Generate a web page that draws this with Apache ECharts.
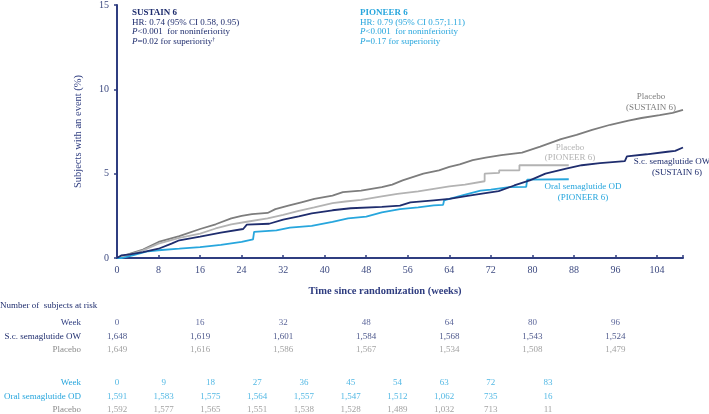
<!DOCTYPE html>
<html><head><meta charset="utf-8">
<script src="https://cdn.jsdelivr.net/npm/echarts@6/dist/echarts.min.js"></script>
<style>html,body{margin:0;padding:0;background:#fff}#c{width:709px;height:414px}</style>
</head><body><div id="c"></div>
<script>
// ---- data (weeks, % subjects with an event) ----
const placeboSustain = [[0,0],[1,0.1],[3,0.3],[5,0.5],[8,0.95],[12,1.3],[16,1.72],[19,2.0],[22,2.35],[24,2.5],[26,2.6],[29,2.67],[30.5,2.9],[33,3.1],[35.5,3.3],[38,3.5],[41.5,3.7],[43.5,3.9],[47,4.0],[51,4.2],[53,4.35],[55,4.6],[59,5.0],[62,5.2],[64,5.4],[66,5.55],[68.5,5.8],[71,5.95],[74,6.1],[78,6.25],[81.5,6.6],[85.5,7.05],[88.5,7.3],[91.5,7.6],[95,7.9],[98.5,8.15],[101,8.3],[104.5,8.47],[107,8.6],[109,8.78]];
const placeboPioneer = [[0,0],[2,0.15],[5,0.45],[8,0.85],[12,1.2],[16,1.45],[19,1.75],[22,2.0],[25,2.15],[29,2.35],[32,2.55],[35,2.8],[38,3.0],[41.5,3.25],[44,3.35],[47,3.45],[51,3.65],[54,3.8],[58,3.95],[61,4.1],[64,4.25],[67,4.35],[70.8,4.55],[70.8,5.0],[73.6,5.05],[73.6,5.2],[77.5,5.2],[77.5,5.5],[87,5.5]];
const scSema = [[0,0],[0.8,0.15],[2.5,0.22],[5,0.35],[8,0.55],[10.5,0.85],[12,1.05],[16,1.27],[20,1.5],[24.3,1.72],[25,1.98],[29.3,2.03],[32,2.28],[35,2.47],[37.5,2.65],[41.5,2.83],[45,2.95],[51,3.03],[54.5,3.1],[56.5,3.3],[61,3.42],[64,3.5],[67.5,3.68],[70,3.8],[73.5,3.97],[76.5,4.3],[79.5,4.6],[82.5,5.0],[86.5,5.3],[89.5,5.5],[93,5.62],[97.8,5.74],[98.2,6.03],[102,6.15],[106,6.3],[107.5,6.35],[109,6.55]];
const oralSema = [[0,0],[1,0],[3,0.16],[6,0.4],[8,0.46],[12,0.55],[16,0.65],[20,0.78],[24,0.95],[26.2,1.1],[26.4,1.55],[30.7,1.64],[33.3,1.8],[37.5,1.9],[41.5,2.14],[44.5,2.35],[48,2.45],[51,2.7],[54.5,2.9],[58,3.0],[61,3.12],[62.8,3.15],[63,3.42],[66.5,3.72],[70,4.0],[72,4.05],[75.5,4.2],[78.8,4.22],[79,4.65],[87,4.67]];

// ---- risk tables ----
const sustainWeeks = [0,16,32,48,64,80,96];
const sustainSema = [1648,1619,1601,1584,1568,1543,1524];
const sustainPlacebo = [1649,1616,1586,1567,1534,1508,1479];
const pioneerWeeks = [0,9,18,27,36,45,54,63,72,83];
const pioneerSema = [1591,1583,1575,1564,1557,1547,1512,1062,735,16];
const pioneerPlacebo = [1592,1577,1565,1551,1538,1528,1489,1032,713,11];

const NAVY='#1f2d6e', AXIS='#2f3d80', GRAY1='#7d7d7d', GRAY2='#b3b3b3', CYAN='#27a6dd', TGRAY='#8a8a8a';
const FONT='Liberation Serif';
const L=117, R=26, XMAX=109;

const grids=[{left:L,right:R,top:5,bottom:156}];
const xAxes=[{type:'value',min:0,max:XMAX,interval:8,gridIndex:0,
  axisLine:{lineStyle:{color:AXIS,width:2}},
  axisTick:{inside:true,length:3,lineStyle:{color:AXIS,width:1.5}},
  axisLabel:{color:'#3d4a80',fontFamily:FONT,fontSize:10,margin:7,
    formatter:v=>v<=104?String(v):''},
  splitLine:{show:false}}];
const yAxes=[{type:'value',min:0,max:15,interval:5,gridIndex:0,
  name:'Subjects with an event (%)',nameLocation:'middle',nameGap:33,
  nameTextStyle:{color:'#2f3d80',fontFamily:FONT,fontSize:10.5},
  axisLine:{show:true,lineStyle:{color:AXIS,width:2}},
  axisTick:{show:true,length:3,lineStyle:{color:AXIS,width:1.5}},
  axisLabel:{color:'#3d4a80',fontFamily:FONT,fontSize:10,margin:8},
  splitLine:{show:false}}];

function line(name,data,color,w){return {type:'line',name,data,xAxisIndex:0,yAxisIndex:0,showSymbol:false,symbol:'none',
  lineStyle:{color,width:w},itemStyle:{color},z:3,animation:false};}
const series=[
  line('Placebo (SUSTAIN 6)',placeboSustain,GRAY1,1.8),
  line('Placebo (PIONEER 6)',placeboPioneer,GRAY2,1.8),
  line('Oral semaglutide OD',oralSema,CYAN,1.8),
  line('S.c. semaglutide OW',scSema,NAVY,1.8)
];

const rows=[
  {y:323,weeks:sustainWeeks,vals:sustainWeeks,color:'#2f3d80',label:'Week'},
  {y:337,weeks:sustainWeeks,vals:sustainSema,color:NAVY,label:'S.c. semaglutide OW',fmt:true},
  {y:350,weeks:sustainWeeks,vals:sustainPlacebo,color:TGRAY,label:'Placebo',fmt:true},
  {y:383,weeks:pioneerWeeks,vals:pioneerWeeks,color:CYAN,label:'Week'},
  {y:397,weeks:pioneerWeeks,vals:pioneerSema,color:CYAN,label:'Oral semaglutide OD',fmt:true},
  {y:410,weeks:pioneerWeeks,vals:pioneerPlacebo,color:TGRAY,label:'Placebo',fmt:true}
];
const graphics=[];
rows.forEach((r,i)=>{
  const gi=i+1;
  grids.push({left:L,right:R,top:r.y-1,height:2});
  xAxes.push({type:'value',min:0,max:XMAX,gridIndex:gi,show:false});
  yAxes.push({type:'value',min:0,max:1,gridIndex:gi,show:false});
  series.push({type:'scatter',xAxisIndex:gi,yAxisIndex:gi,symbol:'circle',symbolSize:1,
    itemStyle:{color:'rgba(0,0,0,0)'},animation:false,silent:true,
    data:r.weeks.map((w,k)=>({value:[w,0.5],v:r.vals[k]})),
    label:{show:true,position:'inside',color:r.color,fontFamily:FONT,fontSize:9,
      formatter:p=>r.fmt?p.data.v.toLocaleString('en-US'):String(p.data.v)}});
  graphics.push({type:'text',x:81,y:r.y,style:{text:r.label,fill:r.color,font:'9px "'+FONT+'"',textAlign:'right',textVerticalAlign:'middle'}});
});

function txt(x,y,text,fill,font,align){return {type:'text',x,y,style:{text,fill,font:font||('9px "'+FONT+'"'),textAlign:align||'left',textVerticalAlign:'middle'}};}
function rich(x,y,parts,fill){
  return {type:'text',x,y,style:{text:parts.map(p=>'{'+p[0]+'|'+p[1]+'}').join(''),textVerticalAlign:'middle',
    rich:{n:{fill,fontFamily:FONT,fontSize:9},i:{fill,fontFamily:FONT,fontSize:9,fontStyle:'italic'},
      s:{fill,fontFamily:FONT,fontSize:6,verticalAlign:'top',padding:[0,0,5,0]}}}};
}
graphics.push(
  txt(0,306,'Number of  subjects at risk','#1f2d6e'),
  txt(385,291,'Time since randomization (weeks)','#2f3d80','bold 10.5px "'+FONT+'"','center'),
  txt(132,13,'SUSTAIN 6',NAVY,'bold 9px "'+FONT+'"'),
  txt(132,23,'HR: 0.74 (95% CI 0.58, 0.95)',NAVY),
  rich(132,32,[['i','P'],['n','<0.001  for noninferiority']],NAVY),
  rich(132,42,[['i','P'],['n','=0.02 for superiority'],['s','†']],NAVY),
  txt(360,13,'PIONEER 6',CYAN,'bold 9px "'+FONT+'"'),
  txt(360,23,'HR: 0.79 (95% CI 0.57;1.11)',CYAN),
  rich(360,32,[['i','P'],['n','<0.001  for noninferiority']],CYAN),
  rich(360,42,[['i','P'],['n','=0.17 for superiority']],CYAN),
  txt(651,97,'Placebo',GRAY1,null,'center'),
  txt(651,107.5,'(SUSTAIN 6)',GRAY1,null,'center'),
  txt(570,148,'Placebo',GRAY2,null,'center'),
  txt(570,157.5,'(PIONEER 6)',GRAY2,null,'center'),
  txt(672,162,'S.c. semaglutide OW',NAVY,null,'center'),
  txt(677,173,'(SUSTAIN 6)',NAVY,null,'center'),
  txt(583,187,'Oral semaglutide OD',CYAN,null,'center'),
  txt(583,197.5,'(PIONEER 6)',CYAN,null,'center')
);

const chart=echarts.init(document.getElementById('c'),null,{renderer:'canvas'});
chart.setOption({animation:false,backgroundColor:'#fff',grid:grids,xAxis:xAxes,yAxis:yAxes,series,graphic:graphics});
</script></body></html>
